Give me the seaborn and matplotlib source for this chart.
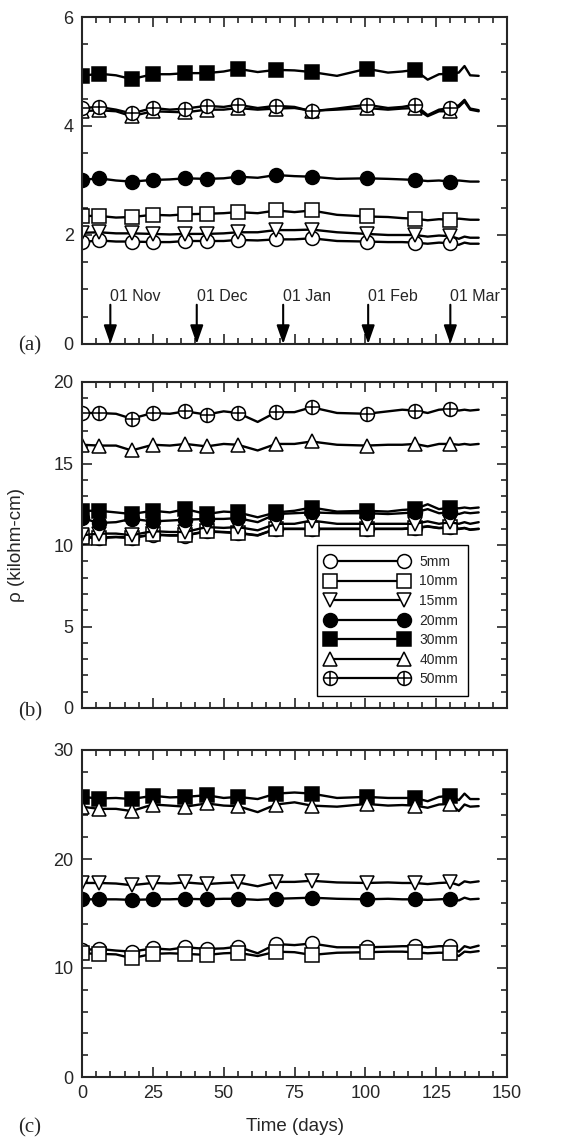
import matplotlib
matplotlib.use("Agg")
import matplotlib.pyplot as plt
import seaborn as sns
from matplotlib.lines import Line2D
from matplotlib.legend_handler import HandlerTuple
from matplotlib.patches import ArrowStyle
from matplotlib.ticker import MultipleLocator

sns.set_style("ticks")
plt.rcParams["font.family"] = ["Liberation Sans", "DejaVu Sans"]

# dias de medicion (linea) y dias con simbolo
days = [0, 6, 12, 17.5, 25, 31, 36.5, 44, 50, 55, 62, 68.5, 75, 81, 90,
        100.5, 108, 113, 117.5, 122, 126, 130, 133, 135, 137, 140]
marker_days = [0, 6, 17.5, 25, 36.5, 44, 55, 68.5, 81, 100.5, 117.5, 130]
depths = ["5mm", "10mm", "15mm", "20mm", "30mm", "40mm", "50mm"]

# panel (a)
a_5 = [1.87, 1.90, 1.88, 1.88, 1.87, 1.87, 1.89, 1.89, 1.89, 1.91, 1.90, 1.92, 1.92,
       1.94, 1.89, 1.88, 1.87, 1.87, 1.86, 1.84, 1.86, 1.85, 1.82, 1.86, 1.84, 1.84]
a_10 = [2.35, 2.35, 2.32, 2.33, 2.37, 2.36, 2.38, 2.39, 2.40, 2.42, 2.40, 2.45, 2.42,
        2.45, 2.37, 2.34, 2.33, 2.31, 2.30, 2.27, 2.29, 2.28, 2.30, 2.29, 2.28, 2.28]
a_15 = [2.04, 2.05, 2.03, 2.03, 2.02, 2.01, 2.02, 2.02, 2.03, 2.05, 2.05, 2.09, 2.09,
        2.10, 2.05, 2.02, 2.00, 2.00, 2.00, 1.97, 1.99, 1.98, 1.93, 1.97, 1.95, 1.95]
a_20 = [3.01, 3.04, 3.00, 2.98, 3.01, 3.02, 3.04, 3.03, 3.04, 3.07, 3.05, 3.10, 3.08,
        3.07, 3.03, 3.04, 3.03, 3.02, 3.01, 2.99, 3.00, 2.98, 3.00, 2.99, 2.98, 2.98]
a_30 = [4.92, 4.96, 4.93, 4.86, 4.95, 4.95, 4.97, 4.97, 5.00, 5.05, 4.99, 5.03, 5.02,
        4.99, 4.92, 5.05, 4.98, 5.00, 5.03, 4.85, 4.95, 4.96, 4.98, 5.10, 4.93, 4.92]
a_40 = [4.27, 4.29, 4.27, 4.18, 4.27, 4.26, 4.25, 4.30, 4.30, 4.33, 4.30, 4.32, 4.33,
        4.28, 4.30, 4.33, 4.30, 4.32, 4.33, 4.18, 4.27, 4.27, 4.35, 4.45, 4.30, 4.27]
a_50 = [4.33, 4.35, 4.30, 4.23, 4.33, 4.30, 4.32, 4.37, 4.35, 4.39, 4.33, 4.37, 4.35,
        4.27, 4.32, 4.39, 4.33, 4.35, 4.39, 4.20, 4.30, 4.33, 4.38, 4.48, 4.32, 4.29]

# panel (b)
b_5 = [10.48, 10.43, 10.48, 10.43, 10.63, 10.58, 10.58, 10.83, 10.78, 10.73, 10.58, 10.98, 10.98,
       10.98, 10.98, 10.98, 10.98, 10.98, 11.03, 11.13, 11.03, 11.08, 10.98, 11.03, 10.93, 10.98]
b_10 = [10.5, 10.45, 10.5, 10.45, 10.65, 10.6, 10.6, 10.85, 10.8, 10.75, 10.6, 11.0, 11.0,
        11.0, 11.0, 11.0, 11.0, 11.0, 11.05, 11.15, 11.05, 11.1, 11.0, 11.05, 10.95, 11.0]
b_15 = [10.6, 10.7, 10.7, 10.6, 10.85, 10.8, 10.8, 11.1, 11.05, 11.1, 10.9, 11.3, 11.3,
        11.5, 11.3, 11.3, 11.3, 11.3, 11.3, 11.45, 11.3, 11.4, 11.3, 11.4, 11.3, 11.4]
b_20 = [11.65, 11.35, 11.4, 11.6, 11.45, 11.5, 11.55, 11.6, 11.6, 11.65, 11.4, 11.9, 11.95,
        12.0, 11.95, 11.95, 11.9, 11.95, 12.0, 12.2, 11.95, 12.0, 11.9, 12.0, 11.95, 12.0]
b_30 = [12.1, 12.1, 12.0, 11.9, 12.1, 12.0, 12.2, 11.9, 12.05, 12.0, 11.7, 12.0, 12.1,
        12.3, 12.05, 12.1, 12.05, 12.15, 12.2, 12.5, 12.2, 12.3, 12.25, 12.3, 12.25, 12.3]
b_40 = [16.15, 16.1, 16.1, 15.8, 16.15, 16.1, 16.2, 16.05, 16.2, 16.15, 15.8, 16.2, 16.2,
        16.35, 16.15, 16.1, 16.15, 16.15, 16.2, 16.05, 16.2, 16.2, 16.15, 16.2, 16.15, 16.2]
b_50 = [18.1, 18.1, 18.05, 17.75, 18.1, 18.05, 18.2, 18.0, 18.2, 18.1, 17.55, 18.15, 18.15,
        18.45, 18.1, 18.05, 18.2, 18.3, 18.25, 18.1, 18.3, 18.35, 18.25, 18.3, 18.25, 18.3]

# panel (c)
c_5 = [11.65, 11.75, 11.6, 11.5, 11.8, 11.7, 11.9, 11.75, 11.8, 11.95, 11.35, 12.2, 12.1,
       12.25, 11.9, 11.9, 11.95, 12.0, 12.0, 11.9, 12.0, 12.0, 11.5, 12.0, 11.85, 12.05]
c_10 = [11.35, 11.3, 11.25, 10.9, 11.3, 11.35, 11.3, 11.2, 11.35, 11.4, 11.1, 11.5, 11.45,
        11.2, 11.4, 11.45, 11.5, 11.5, 11.45, 11.35, 11.4, 11.4, 11.1, 11.5, 11.45, 11.55]
c_15 = [17.8, 17.8, 17.75, 17.6, 17.8, 17.75, 17.85, 17.7, 17.8, 17.85, 17.5, 17.9, 17.9,
        18.0, 17.85, 17.8, 17.85, 17.8, 17.8, 17.7, 17.8, 17.85, 17.6, 17.95, 17.85, 17.95]
c_20 = [16.3, 16.3, 16.3, 16.25, 16.3, 16.3, 16.35, 16.3, 16.35, 16.35, 16.25, 16.35, 16.4,
        16.45, 16.35, 16.3, 16.35, 16.3, 16.3, 16.25, 16.3, 16.35, 16.2, 16.45, 16.3, 16.35]
c_30 = [25.7, 25.55, 25.6, 25.5, 25.8, 25.65, 25.7, 25.85, 25.6, 25.7, 25.5, 26.0, 26.1,
        26.0, 25.6, 25.7, 25.6, 25.6, 25.6, 25.3, 25.7, 25.8, 25.4, 26.0, 25.5, 25.5]
c_40 = [24.8, 24.6, 24.6, 24.4, 25.0, 24.9, 24.8, 25.1, 24.9, 24.85, 24.3, 25.0, 25.2,
        24.9, 24.8, 25.05, 24.9, 24.95, 24.9, 24.7, 25.0, 25.05, 24.4, 25.0, 24.8, 24.85]

# fechas marcadas con flechas en (a)
month_labels = ["01 Nov", "01 Dec", "01 Jan", "01 Feb", "01 Mar"]
month_days = [10, 40.5, 71, 101, 130]

# simbolo y relleno para cada profundidad
styles = {"5mm": ("o", "w"), "10mm": ("s", "w"), "15mm": ("v", "w"),
          "20mm": ("o", "k"), "30mm": ("s", "k"), "40mm": ("^", "w"),
          "50mm": ("o", "w")}
mark_idx = [days.index(d) for d in marker_days]
MS = 10


def draw_series(ax, series):
    for name in depths:
        if name not in series:
            continue
        m, fc = styles[name]
        sns.lineplot(x=days, y=series[name], ax=ax, color="k", lw=1.7,
                     marker=m, markersize=MS, markerfacecolor=fc,
                     markeredgecolor="k", markeredgewidth=1.1,
                     markevery=mark_idx, estimator=None, sort=False)
        if name == "50mm":
            # la cruz del circulo
            sns.lineplot(x=days, y=series[name], ax=ax, color="k", lw=0,
                         marker="+", markersize=MS, markeredgecolor="k",
                         markeredgewidth=1.1, markevery=mark_idx,
                         estimator=None, sort=False)


def style_axis(ax, top, major, minor):
    ax.set_xlim(0, 150)
    ax.set_ylim(0, top)
    ax.xaxis.set_major_locator(MultipleLocator(25))
    ax.xaxis.set_minor_locator(MultipleLocator(5))
    ax.yaxis.set_major_locator(MultipleLocator(major))
    ax.yaxis.set_minor_locator(MultipleLocator(minor))
    ax.tick_params(which="both", direction="in", top=True, right=True,
                   width=1.2, labelsize=13)
    ax.tick_params(which="major", length=7.5, pad=6)
    ax.tick_params(which="minor", length=4)
    for sp in ax.spines.values():
        sp.set_linewidth(1.5)
        sp.set_visible(True)
    ax.set_xlabel("")
    ax.set_ylabel("")


fig = plt.figure(figsize=(5.7, 11.39), dpi=100)
left, width = 82 / 570, 425 / 570
ax_a = fig.add_axes([left, 1 - 344 / 1139, width, 327 / 1139])
ax_b = fig.add_axes([left, 1 - 708 / 1139, width, 326 / 1139])
ax_c = fig.add_axes([left, 1 - 1077 / 1139, width, 327 / 1139])

draw_series(ax_a, {"5mm": a_5, "10mm": a_10, "15mm": a_15, "20mm": a_20,
                   "30mm": a_30, "40mm": a_40, "50mm": a_50})
draw_series(ax_b, {"5mm": b_5, "10mm": b_10, "15mm": b_15, "20mm": b_20,
                   "30mm": b_30, "40mm": b_40, "50mm": b_50})
draw_series(ax_c, {"5mm": c_5, "10mm": c_10, "15mm": c_15, "20mm": c_20,
                   "30mm": c_30, "40mm": c_40})

style_axis(ax_a, 6, 2, 0.5)
style_axis(ax_b, 20, 5, 1)
style_axis(ax_c, 30, 10, 2)
ax_a.tick_params(labelbottom=False)
ax_b.tick_params(labelbottom=False)

# flechas con los meses
head = ArrowStyle("-|>", head_length=0.8, head_width=0.28)
for lab, d in zip(month_labels, month_days):
    ax_a.annotate("", xy=(d, 0), xytext=(d, 0.72),
                  arrowprops=dict(arrowstyle=head, color="k", lw=1.5,
                                  mutation_scale=14, shrinkA=0, shrinkB=0))
    ax_a.text(d, 0.87, lab, ha="left", va="center", fontsize=11.5)

# leyenda
handles = []
for name in depths:
    m, fc = styles[name]
    h = Line2D([], [], color="k", lw=1.6, marker=m, markersize=MS,
               markerfacecolor=fc, markeredgecolor="k", markeredgewidth=1.1)
    if name == "50mm":
        cross = Line2D([], [], lw=0, marker="+", markersize=MS,
                       markeredgecolor="k", markeredgewidth=1.1)
        h = (h, cross)
    handles.append(h)
leg = ax_b.legend(handles, depths, loc="lower right", bbox_to_anchor=(0.908, 0.037),
                  borderaxespad=0, fontsize=10, handlelength=5.9, handletextpad=0.8,
                  labelspacing=0.4, borderpad=0.7, numpoints=2, fancybox=False,
                  framealpha=1, edgecolor="k",
                  handler_map={tuple: HandlerTuple(ndivide=1)})
leg.get_frame().set_linewidth(1.0)

ax_b.set_ylabel("\u03c1 (kilohm-cm)", fontsize=13.5)
ax_b.yaxis.set_label_coords(-0.134, 0.5)
ax_c.set_xlabel("Time (days)", fontsize=13.5)
ax_c.xaxis.set_label_coords(0.5, -0.125)

for lab, y in zip(["(a)", "(b)", "(c)"], [346, 712, 1128]):
    fig.text(30 / 570, 1 - y / 1139, lab, ha="center", va="center",
             fontsize=15, family="Liberation Serif")

fig.savefig("out.png", dpi=100)
